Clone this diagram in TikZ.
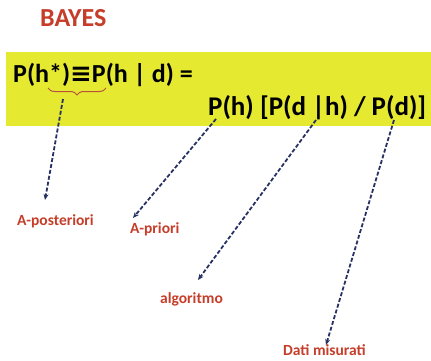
\documentclass[tikz,border=0pt]{standalone}
\usepackage{fontspec}
\setmainfont{Carlito}
\newfontfamily\symfont{DejaVu Sans}
\usetikzlibrary{decorations.pathreplacing,arrows.meta}
\definecolor{bred}{RGB}{198,62,42}
\definecolor{band}{RGB}{229,233,48}
\definecolor{arr}{RGB}{40,50,98}
\definecolor{brc}{RGB}{184,82,60}
\tikzset{
  lbl/.style={anchor=base west,inner sep=0pt,text=bred,font=\bfseries\fontsize{15.5}{15.5}\selectfont},
  eq/.style={anchor=base west,inner sep=0pt,font=\bfseries\fontsize{26}{26}\selectfont},
  conn/.style={draw=arr,line width=1.8pt,dash pattern=on 4pt off 2pt,-{Stealth[length=6pt,width=5pt]}}
}
\begin{document}
\begin{tikzpicture}[x=1pt,y=-1pt]
\useasboundingbox (0,0) rectangle (431,361);
\fill[white] (0,0) rectangle (431,361);
\fill[band] (6,52) rectangle (431,126);
\node[anchor=base west,inner sep=0pt,text=bred,font=\bfseries\fontsize{26}{26}\selectfont] (title) at (40,27) {BAYES};
\node[eq] (l1) at (13,82) {P(h*){\symfont ≡}P(h | d) =};
\node[eq,font=\bfseries\fontsize{27}{27}\selectfont] (l2) at (208,115) {P(h) [P(d |h) / P(d)]};
\draw[brc,line width=1pt,decorate,decoration={brace,amplitude=7pt,aspect=0.5}] (106,88) -- (48,88);
\node[lbl] (post) at (17,225) {A-posteriori};
\node[lbl] (prio) at (130,233) {A-priori};
\node[lbl] (algo) at (160,303) {algoritmo};
\node[lbl] (dati) at (283,355) {Dati misurati};
\coordinate (s1) at (63,99);
\coordinate (e1) at (45,200);
\coordinate (s2) at (216,119);
\coordinate (e2) at (133,218);
\coordinate (s3) at (316,120);
\coordinate (e3) at (198,280);
\coordinate (s4) at (394,120);
\coordinate (e4) at (326,345);
\draw[conn] (s1) -- (e1);
\draw[conn] (s2) -- (e2);
\draw[conn] (s3) -- (e3);
\draw[conn] (s4) -- (e4);
\end{tikzpicture}
\end{document}
